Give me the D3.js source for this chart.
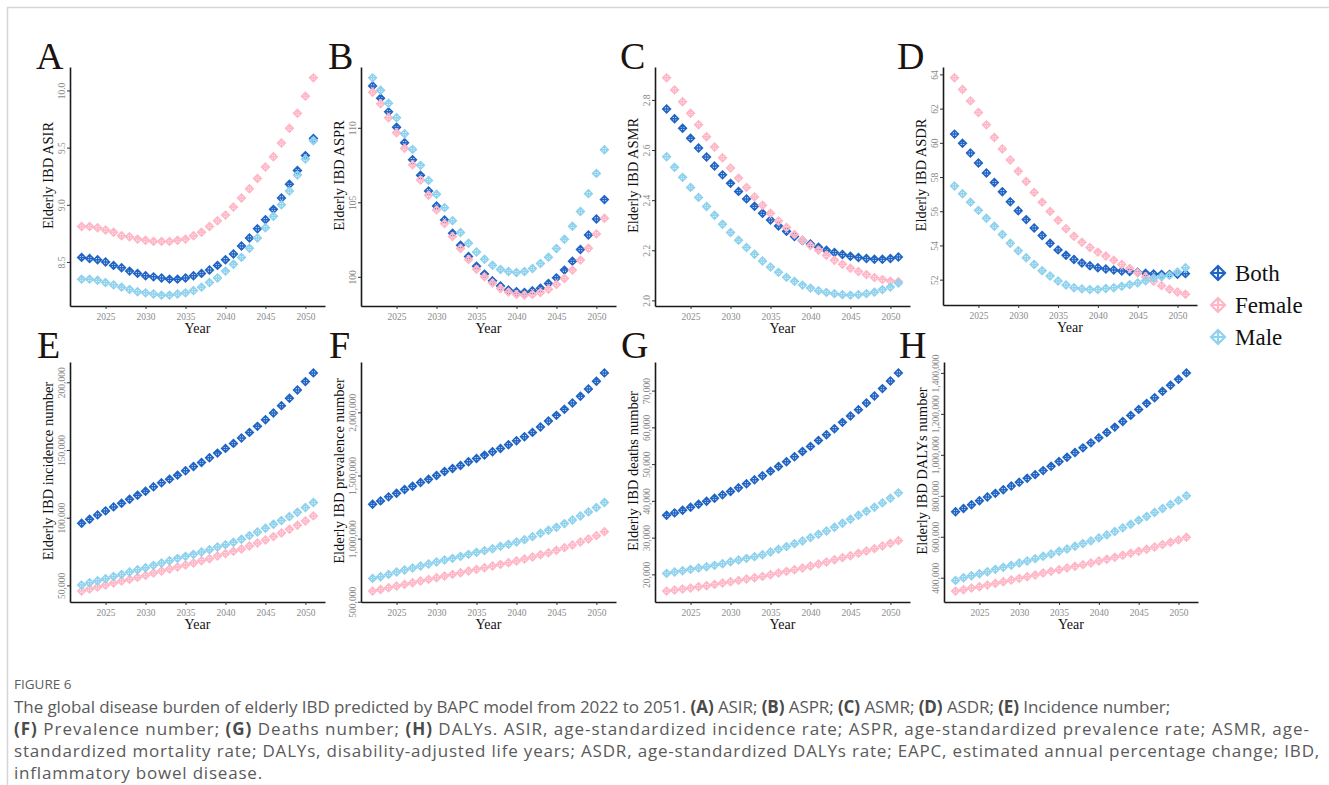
<!DOCTYPE html>
<html>
<head>
<meta charset="utf-8">
<script src="https://cdn.jsdelivr.net/npm/d3@7"></script>
<style>
  body { margin: 0; background: #fff; }
  svg { display: block; }
</style>
</head>
<body>
<div id="graph"></div>
<script>

// ---- data ----
var years = [2022,2023,2024,2025,2026,2027,2028,2029,2030,2031,2032,2033,2034,2035,2036,
             2037,2038,2039,2040,2041,2042,2043,2044,2045,2046,2047,2048,2049,2050,2051];
var yearTicks = [2025, 2030, 2035, 2040, 2045, 2050];
var groups = ['Both', 'Female', 'Male'];

// A: ASIR
var asirBoth   = [8.54,8.53,8.52,8.50,8.47,8.45,8.42,8.40,8.38,8.37,8.36,8.35,8.35,8.36,8.38,8.40,8.43,8.47,8.52,8.57,8.64,8.71,8.79,8.87,8.96,9.06,9.18,9.30,9.43,9.58];
var asirFemale = [8.81,8.81,8.80,8.78,8.76,8.73,8.72,8.70,8.69,8.68,8.68,8.68,8.69,8.70,8.73,8.76,8.81,8.86,8.91,8.98,9.06,9.14,9.23,9.33,9.42,9.54,9.67,9.80,9.95,10.11];
var asirMale   = [8.35,8.35,8.34,8.32,8.30,8.28,8.26,8.24,8.23,8.22,8.21,8.21,8.22,8.23,8.25,8.28,8.32,8.36,8.42,8.48,8.54,8.62,8.71,8.80,8.90,9.00,9.12,9.26,9.40,9.56];
var asirTicks  = [8.5, 9.0, 9.5, 10.0];

// B: ASPR
var asprBoth   = [112.81,111.99,111.07,110.04,109.00,107.86,106.81,105.76,104.75,103.82,102.92,102.12,101.36,100.71,100.18,99.73,99.38,99.11,99.00,98.95,99.06,99.24,99.55,99.93,100.45,101.05,101.83,102.81,103.88,105.18];
var asprFemale = [112.39,111.61,110.67,109.67,108.62,107.52,106.50,105.47,104.49,103.57,102.70,101.90,101.16,100.51,100.00,99.58,99.22,98.97,98.82,98.77,98.82,98.95,99.17,99.49,99.89,100.45,101.12,101.92,102.88,103.93];
var asprMale   = [113.35,112.52,111.65,110.67,109.60,108.55,107.48,106.47,105.54,104.64,103.77,102.97,102.25,101.67,101.18,100.78,100.49,100.36,100.29,100.36,100.56,100.89,101.32,101.90,102.52,103.39,104.38,105.58,106.94,108.53];
var asprTicks  = [100, 105, 110];

// C: ASMR
var asmrBoth   = [2.764,2.725,2.687,2.647,2.608,2.572,2.536,2.501,2.467,2.435,2.405,2.376,2.348,2.321,2.297,2.276,2.255,2.239,2.225,2.212,2.200,2.191,2.183,2.176,2.171,2.167,2.164,2.164,2.167,2.173];
var asmrFemale = [2.888,2.840,2.793,2.747,2.701,2.653,2.612,2.569,2.528,2.488,2.451,2.413,2.380,2.348,2.317,2.291,2.263,2.240,2.219,2.200,2.180,2.160,2.144,2.128,2.115,2.103,2.091,2.083,2.077,2.075];
var asmrMale   = [2.573,2.531,2.491,2.451,2.411,2.375,2.340,2.304,2.271,2.240,2.211,2.184,2.157,2.133,2.112,2.092,2.076,2.061,2.049,2.039,2.032,2.027,2.023,2.021,2.023,2.027,2.033,2.043,2.053,2.069];
var asmrTicks  = [2.0, 2.2, 2.4, 2.6, 2.8];

// D: ASDR
var asdrBoth   = [60.51,59.97,59.40,58.82,58.24,57.68,57.14,56.55,56.03,55.51,55.02,54.58,54.13,53.74,53.43,53.18,52.97,52.81,52.70,52.62,52.56,52.50,52.47,52.43,52.37,52.33,52.31,52.31,52.31,52.35];
var asdrFemale = [63.80,63.12,62.45,61.77,61.05,60.31,59.64,59.00,58.34,57.74,57.10,56.53,55.99,55.47,54.98,54.54,54.19,53.88,53.61,53.38,53.14,52.89,52.66,52.41,52.17,51.90,51.65,51.44,51.28,51.15];
var asdrMale   = [57.47,57.02,56.53,56.05,55.59,55.12,54.64,54.13,53.69,53.28,52.89,52.52,52.21,51.92,51.69,51.53,51.46,51.42,51.42,51.48,51.53,51.61,51.71,51.81,51.94,52.08,52.17,52.25,52.45,52.70];
var asdrTicks  = [52, 54, 56, 58, 60, 62, 64];

// E: incidence number
var incBoth   = [95890,98850,102050,105010,107970,110690,113650,116610,119570,122780,125740,128450,131410,134620,137830,140790,144240,147690,151150,154850,158800,162990,167430,172370,177300,182730,188150,194320,200490,206900];
var incFemale = [45800,47290,48770,50250,51730,53210,54440,55920,57400,59130,60610,62090,63570,65050,66530,68260,69740,71710,73440,75160,76890,79110,81330,83550,86020,88730,91450,94410,97610,101310];
var incMale   = [50250,51970,53450,54930,56660,58140,59870,61590,63070,64800,66530,68260,69980,71460,72940,74670,76400,78370,80100,81820,84040,86760,89470,92190,95150,97860,100820,104030,107480,111180];
var incTicks  = [50000, 100000, 150000, 200000];

// F: prevalence number
var prevBoth   = [1272500,1299000,1330700,1359800,1388900,1415300,1444400,1470900,1500000,1531700,1555600,1579400,1608500,1634900,1661400,1687800,1714300,1743400,1775100,1806900,1841300,1883600,1931200,1976200,2023800,2074100,2127000,2185200,2246000,2312200];
var prevFemale = [584700,597900,611100,624400,637600,650800,664100,677300,690600,703800,717000,730300,743500,756700,770000,783100,796400,809600,822800,838700,854600,873100,888900,907400,928600,949800,973500,997300,1023800,1055500];
var prevMale   = [685200,698400,716900,735500,751300,767200,783100,799000,814800,830700,843900,859800,875700,891500,904800,920600,939100,955000,973500,992000,1015900,1042300,1066100,1089900,1119000,1148100,1179900,1211600,1246000,1285700];
var prevTicks  = [500000, 1000000, 1500000, 2000000];

// G: deaths number
var deathBoth   = [36090,36730,37450,38270,39090,39910,40730,41640,42550,43550,44640,45730,46820,48090,49360,50640,52000,53450,54820,56460,58000,59640,61360,63090,64820,66640,68550,70550,72640,74820];
var deathFemale = [15450,15730,16000,16270,16640,16910,17270,17640,18000,18360,18730,19090,19450,19910,20360,20820,21270,21730,22270,22820,23360,24000,24550,25090,25730,26360,27000,27730,28450,29180];
var deathMale   = [20270,20640,21000,21360,21730,22090,22450,22910,23450,23910,24360,24820,25360,26090,26820,27550,28360,29090,30000,30910,31820,32820,33910,35000,36090,37180,38270,39450,40730,42180];
var deathTicks  = [20000, 30000, 40000, 50000, 60000, 70000];

// H: DALYs number
var dalyBoth   = [721900,738200,756200,775800,793800,811800,829700,847700,865700,885300,903300,922900,944100,967000,988200,1011100,1034000,1058500,1083000,1109200,1135300,1163100,1192500,1221900,1251300,1279100,1310100,1339500,1369000,1400000];
var dalyFemale = [334600,341200,349300,355900,364000,372200,380400,388600,396700,404900,413100,422900,431000,439200,447400,455500,463700,471900,481700,489900,499700,509500,519300,529000,538800,550300,561700,573200,584600,597700];
var dalyMale   = [386900,400000,409800,419600,429400,440800,450600,460400,471900,481700,493100,504500,516000,529000,540500,553500,566600,579700,594400,609100,625500,643400,661400,681000,699000,718600,738200,757800,777400,800300];
var dalyTicks  = [400000, 600000, 800000, 1000000, 1200000, 1400000];

// caption text, [text, bold]
var captionLines = [
  [["The global disease burden of elderly IBD predicted by BAPC model from 2022 to 2051. ",0],["(A)",1],[" ASIR; ",0],["(B)",1],[" ASPR; ",0],["(C)",1],[" ASMR; ",0],["(D)",1],[" ASDR; ",0],["(E)",1],[" Incidence number;",0]],
  [["(F)",1],[" Prevalence number; ",0],["(G)",1],[" Deaths number; ",0],["(H)",1],[" DALYs. ASIR, age-standardized incidence rate; ASPR, age-standardized prevalence rate; ASMR, age-",0]],
  [["standardized mortality rate; DALYs, disability-adjusted life years; ASDR, age-standardized DALYs rate; EAPC, estimated annual percentage change; IBD,",0]],
  [["inflammatory bowel disease.",0]]
];
var captionRight = [1170, 1310, 1320, 263];

// ---- layout ----
var W = 1329, H = 785;
var serif = "'Liberation Serif', 'Times New Roman', serif";
var color = d3.scaleOrdinal().domain(groups).range(['#2064c4', '#ffb6c6', '#8fd2ee']);

var panels = [
  {letter:'A', title:'Elderly IBD ASIR', s:[asirBoth, asirFemale, asirMale], ticks:asirTicks, fmt:'.1f', left:70,  top:67,  w:255, h:239, lx:36,  ly:69},
  {letter:'B', title:'Elderly IBD ASPR', s:[asprBoth, asprFemale, asprMale], ticks:asprTicks, fmt:'d',   left:361, top:67,  w:255, h:239, lx:328, ly:69},
  {letter:'C', title:'Elderly IBD ASMR', s:[asmrBoth, asmrFemale, asmrMale], ticks:asmrTicks, fmt:'.1f', left:655, top:67,  w:255, h:239, lx:620, ly:69},
  {letter:'D', title:'Elderly IBD ASDR', s:[asdrBoth, asdrFemale, asdrMale], ticks:asdrTicks, fmt:'d',   left:943, top:67,  w:254, h:238, lx:897, ly:69},
  {letter:'E', title:'Elderly IBD incidence number', s:[incBoth, incFemale, incMale], ticks:incTicks, fmt:',d', left:70,  top:362, w:255, h:240, lx:37,  ly:358},
  {letter:'F', title:'Elderly IBD prevalence number', s:[prevBoth, prevFemale, prevMale], ticks:prevTicks, fmt:',d', left:361, top:362, w:255, h:240, lx:329, ly:358},
  {letter:'G', title:'Elderly IBD deaths number', s:[deathBoth, deathFemale, deathMale], ticks:deathTicks, fmt:',d', left:655, top:362, w:255, h:240, lx:621, ly:358},
  {letter:'H', title:'Elderly IBD DALYs number', s:[dalyBoth, dalyFemale, dalyMale], ticks:dalyTicks, fmt:',d', left:944, top:362, w:254, h:240, lx:899, ly:358}
];

function diamondPlus(r) {
  return 'M0,' + (-r) + 'L' + r + ',0L0,' + r + 'L' + (-r) + ',0Z' +
         'M0,' + (-r) + 'V' + r + 'M' + (-r) + ',0H' + r;
}

var svg = d3.select('#graph').append('svg')
    .attr('width', W)
    .attr('height', H);

// light frame round the figure
svg.append('path')
    .attr('d', 'M7.5,' + H + 'V7.5H' + W)
    .attr('fill', 'none')
    .attr('stroke', '#d6d6d6')
    .attr('stroke-width', 1.5);

panels.forEach(function(p) {
  var g = svg.append('g').attr('transform', 'translate(' + p.left + ',' + p.top + ')');

  var all = d3.merge(p.s);
  var lo = d3.min(all), hi = d3.max(all), pad = (hi - lo) * 0.05;
  var xPad = (d3.max(years) - d3.min(years)) * 0.05;

  var x = d3.scaleLinear()
      .domain([d3.min(years) - xPad, d3.max(years) + xPad])
      .range([0, p.w]);
  var y = d3.scaleLinear()
      .domain([lo - pad, hi + pad])
      .range([p.h, 0]);

  // x axis
  var gx = g.append('g')
      .attr('transform', 'translate(0,' + p.h + ')')
      .call(d3.axisBottom(x).tickValues(yearTicks).tickFormat(d3.format('d')).tickSize(3).tickSizeOuter(0));
  gx.selectAll('text').attr('y', 7.5);

  // y axis, labels turned upright like ggplot angle = 90
  var gy = g.append('g')
      .call(d3.axisLeft(y).tickValues(p.ticks).tickFormat(d3.format(p.fmt)).tickSize(3).tickSizeOuter(0));
  gy.selectAll('text')
      .attr('x', null).attr('dy', null)
      .attr('text-anchor', 'middle')
      .attr('transform', 'translate(-5,0) rotate(-90)');

  [gx, gy].forEach(function(a) {
    a.select('.domain').attr('stroke', '#1a1a1a').attr('stroke-width', 1.6);
    a.selectAll('.tick line').attr('stroke', '#333');
    a.selectAll('text')
        .attr('fill', '#8a8a8a')
        .style('font-family', serif)
        .style('font-size', '9.5px');
  });

  // axis titles
  g.append('text')
      .attr('x', p.w / 2)
      .attr('y', p.h + 27)
      .attr('text-anchor', 'middle')
      .style('font-family', serif)
      .style('font-size', '14px')
      .attr('fill', '#111')
      .text('Year');

  g.append('text')
      .attr('transform', 'translate(-17,' + (p.h / 2 - 11) + ') rotate(-90)')
      .attr('text-anchor', 'middle')
      .style('font-family', serif)
      .style('font-size', '14.5px')
      .attr('fill', '#111')
      .text(p.title);

  // points: Both, Female, Male (drawn in that order)
  groups.forEach(function(name, i) {
    g.append('g').selectAll('path')
      .data(p.s[i])
      .enter().append('path')
        .attr('transform', function(d, j) { return 'translate(' + x(years[j]) + ',' + y(d) + ')'; })
        .attr('d', diamondPlus(3.9))
        .attr('fill', 'none')
        .attr('stroke', color(name))
        .attr('stroke-width', 1.5);
  });

  // panel letter
  svg.append('text')
      .attr('x', p.lx)
      .attr('y', p.ly)
      .style('font-family', serif)
      .style('font-size', '38px')
      .attr('fill', '#1a1310')
      .text(p.letter);
});

// legend
var legend = svg.append('g').attr('transform', 'translate(1218,273)');
groups.forEach(function(name, i) {
  var row = legend.append('g').attr('transform', 'translate(0,' + (i * 32) + ')');
  row.append('path')
      .attr('d', diamondPlus(7))
      .attr('fill', 'none')
      .attr('stroke', color(name))
      .attr('stroke-width', 2.2);
  row.append('text')
      .attr('x', 17)
      .attr('y', 8)
      .style('font-family', serif)
      .style('font-size', '23px')
      .attr('fill', '#111')
      .text(name);
});

// caption
var sans = "'Open Sans', 'Noto Sans', sans-serif";
svg.append('text')
    .attr('x', 14)
    .attr('y', 689)
    .style('font-family', sans)
    .style('font-size', '13.5px')
    .attr('fill', '#5e5e5e')
    .text('FIGURE 6');

captionLines.forEach(function(line, i) {
  var t = svg.append('text')
      .attr('x', 14)
      .attr('y', 713 + i * 22)
      .style('font-family', sans)
      .style('font-size', '17px')
      .attr('fill', '#5a5a5a');
  line.forEach(function(seg) {
    t.append('tspan')
        .style('font-weight', seg[1] ? 700 : 400)
        .attr('fill', seg[1] ? '#4a4a4a' : '#5a5a5a')
        .text(seg[0]);
  });
  // spread the letters so the line ends where it does in the figure
  var full = line.map(function(s) { return s[0]; }).join('');
  var len = t.node().getComputedTextLength();
  var diff = (captionRight[i] - 14) - len;
  t.style('letter-spacing', (diff / full.length) + 'px');
});

</script>
</body>
</html>
